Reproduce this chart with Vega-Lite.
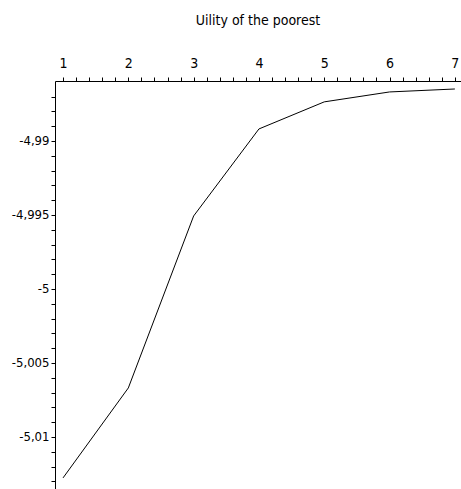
{
  "$schema": "https://vega.github.io/schema/vega-lite/v6.json",
  "autosize": "none",
  "width": 406,
  "height": 408,
  "padding": {"left": 55, "top": 81, "right": 0, "bottom": 0},
  "background": "white",
  "title": {"text": "Uility of the poorest", "font": "'DejaVu Sans Condensed', 'Liberation Sans', sans-serif", "fontSize": 14, "fontWeight": "normal", "color": "#000", "anchor": "middle", "offset": 28},
  "data": {"values": [
    {"x": 1, "u": -5.01277},
    {"x": 2, "u": -5.00669},
    {"x": 3, "u": -4.99507},
    {"x": 4, "u": -4.98919},
    {"x": 5, "u": -4.98736},
    {"x": 6, "u": -4.98669},
    {"x": 7, "u": -4.98649}
  ]},
  "mark": {"type": "line", "color": "#000", "strokeWidth": 1, "clip": true},
  "encoding": {
    "x": {"field": "x", "type": "quantitative", "scale": {"domain": [0.877, 7.094], "nice": false, "zero": false},
      "axis": {"orient": "top", "title": null, "grid": false, "domainColor": "#000", "tickColor": "#000", "tickSize": 4, "labelPadding": 7,
        "values": [1,1.2,1.4,1.6,1.8,2,2.2,2.4,2.6,2.8,3,3.2,3.4,3.6,3.8,4,4.2,4.4,4.6,4.8,5,5.2,5.4,5.6,5.8,6,6.2,6.4,6.6,6.8,7],
        "labelExpr": "datum.value == round(datum.value) ? '' + datum.value : ''",
        "labelFont": "'DejaVu Sans Condensed', 'Liberation Sans', sans-serif", "labelFontSize": 14, "labelColor": "#000", "labelOverlap": false, "labelBound": false, "labelFlush": false}},
    "y": {"field": "u", "type": "quantitative", "scale": {"domain": [-5.01352, -4.98595], "nice": false, "zero": false},
      "axis": {"title": null, "grid": false, "domainColor": "#000", "tickColor": "#000", "tickSize": 4, "labelPadding": 2,
        "values": [-5.013,-5.012,-5.011,-5.01,-5.009,-5.008,-5.007,-5.006,-5.005,-5.004,-5.003,-5.002,-5.001,-5,-4.999,-4.998,-4.997,-4.996,-4.995,-4.994,-4.993,-4.992,-4.991,-4.99,-4.989,-4.988,-4.987],
        "labelExpr": "indexof(['-4.99','-4.995','-5','-5.005','-5.01'], '' + datum.value) >= 0 ? replace('' + datum.value, '.', ',') : ''",
        "labelFont": "'DejaVu Sans Condensed', 'Liberation Sans', sans-serif", "labelFontSize": 13, "labelColor": "#000", "labelOverlap": false, "labelBound": false, "labelFlush": false}}
  },
  "config": {"view": {"stroke": null}}
}
